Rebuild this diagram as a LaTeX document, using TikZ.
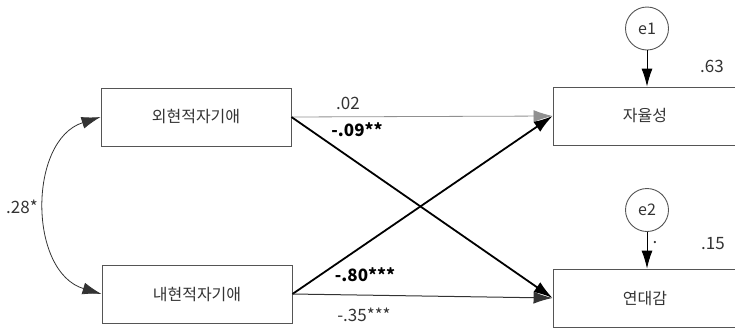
\documentclass[tikz,border=0pt]{standalone}
\usepackage{fontspec}
\setmainfont{Noto Sans CJK KR}
\usetikzlibrary{arrows.meta}
\definecolor{txt}{HTML}{333333}
\definecolor{frame}{HTML}{555555}
\definecolor{light}{HTML}{909090}
\begin{document}
\begin{tikzpicture}[x=1pt,y=-1pt,
  varbox/.style={draw=frame,line width=0.9pt,minimum height=58pt,inner sep=0pt,font=\fontsize{16}{19}\selectfont,text=txt},
  errc/.style={draw=frame,line width=0.9pt,circle,minimum size=43pt,inner sep=0pt,font=\fontsize{16}{19}\selectfont,text=txt},
  lbl/.style={font=\fontsize{17}{20}\selectfont,text=txt,inner sep=0pt},
  blbl/.style={font=\fontsize{17}{20}\selectfont\bfseries,text=black,inner sep=0pt},
  tip/.style={-{Latex[length=19pt,width=12pt]}},
  strong/.style={tip,line width=1.8pt,black},
  weak/.style={tip,line width=0.8pt,light},
]
\useasboundingbox (0,0) rectangle (735,330);
\clip (0,0) rectangle (735,330);
\node[varbox,minimum width=190pt] (a) at (196,117) {외현적자기애};
\node[varbox,minimum width=190pt] (b) at (197,294) {내현적자기애};
\node[varbox,minimum width=184pt] (c) at (645,116) {자율성};
\node[varbox,minimum width=184pt] (d) at (645,298) {연대감};
\node[errc] (e1) at (647,28.5) {e1};
\node[errc] (e2) at (647,210) {e2};
\draw[-{Latex[length=18pt,width=11pt]},line width=0.9pt,black] (e1) -- (e1 |- c.north);
\draw[-{Latex[length=18pt,width=11pt]},line width=0.9pt,black] (e2) -- (e2 |- d.north);
\draw[weak] (a.east) -- (c.west);
\draw[strong] (a.east) -- (d.west);
\draw[strong] (b.east) -- (c.west);
\draw[tip,line width=1pt,txt] (b.east) -- (d.west);
\draw[{Latex[length=19pt,width=12pt]}-{Latex[length=19pt,width=12pt]},line width=0.8pt,txt]
  (a.west) .. controls (28,140) and (28,272) .. (b.west);
\node[lbl] (l28) at (22,207) {.28*};
\node[lbl] (l02) at (348,103) {.02};
\node[blbl] (l09) at (357,130) {-.09**};
\node[blbl] (l80) at (365,275) {-.80***};
\node[lbl] (l35) at (364,315) {-.35***};
\node[lbl] (l63) at (712,66) {.63};
\node[lbl] (l15) at (713,244) {.15};
\node[lbl] (dot) at (655,243) {.};
\end{tikzpicture}
\end{document}
